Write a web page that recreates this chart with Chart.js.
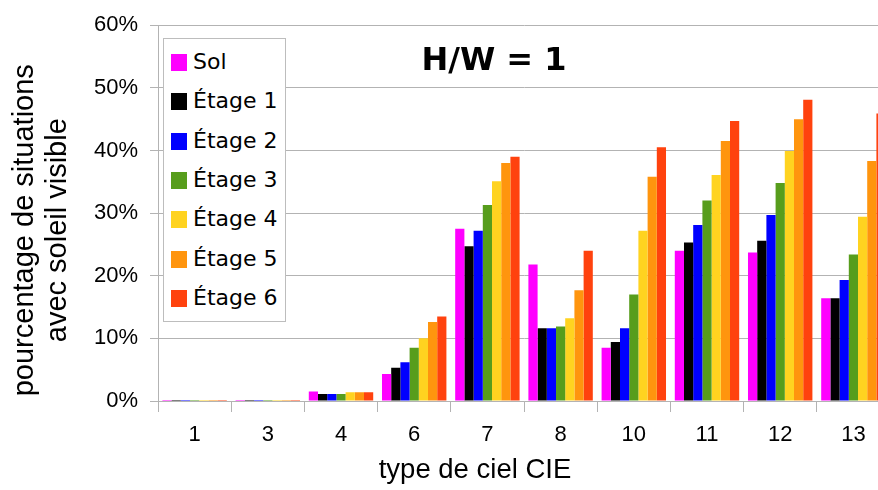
<!DOCTYPE html>
<html>
<head>
<meta charset="utf-8">
<script src="https://cdn.jsdelivr.net/npm/chart.js@4"></script>
<style>
  html, body { margin: 0; padding: 0; background: #fff; overflow: hidden; }
  #wrap { position: relative; width: 890px; height: 490px; }
  #legend {
    position: absolute; left: 163px; top: 38px; width: 121px; height: 282px;
    border: 1px solid #bdbdbd; background: #fff;
    font-family: "DejaVu Sans", sans-serif; font-size: 22px; color: #000;
  }
  .item { position: absolute; left: 7px; height: 24px; line-height: 24px; white-space: nowrap; }
  .item span { display: inline-block; width: 16px; height: 17px; vertical-align: -2px; margin-right: 6px; }
</style>
</head>
<body>
<div id="wrap">
  <canvas id="chart" width="890" height="490"></canvas>
  <div id="legend"></div>
</div>
<script>
// * categories (type de ciel CIE)
const ciel = ["1", "3", "4", "6", "7", "8", "10", "11", "12", "13"];
const serieNoms = ["Sol", "Étage 1", "Étage 2", "Étage 3", "Étage 4", "Étage 5", "Étage 6"];
const serieCouleurs = ["#ff00ff", "#000000", "#0000ff", "#579d1c", "#ffd320", "#ff950e", "#ff420e"];

// * valeurs (%)
const sol = [0.15, 0.15, 1.5, 4.3, 27.5, 21.8, 8.5, 24.0, 23.7, 16.4];
const etage1 = [0.15, 0.15, 1.1, 5.3, 24.7, 11.6, 9.4, 25.3, 25.6, 16.4];
const etage2 = [0.15, 0.15, 1.1, 6.2, 27.2, 11.6, 11.6, 28.1, 29.7, 19.3];
const etage3 = [0.15, 0.15, 1.1, 8.5, 31.3, 11.9, 17.0, 32.0, 34.8, 23.4];
const etage4 = [0.15, 0.15, 1.4, 10.0, 35.1, 13.2, 27.2, 36.1, 39.9, 29.4];
const etage5 = [0.15, 0.15, 1.4, 12.6, 38.0, 17.7, 35.8, 41.5, 45.0, 38.3];
const etage6 = [0.15, 0.15, 1.4, 13.5, 39.0, 24.0, 40.5, 44.7, 48.1, 45.9];
const series = [sol, etage1, etage2, etage3, etage4, etage5, etage6];

const yTicks = [0, 10, 20, 30, 40, 50, 60];
const titre = "H/W = 1";
const titreX = "type de ciel CIE";
const titreY = ["pourcentage de situations", "avec soleil visible"];

const grille = "#b3b3b3";
const axeFont = { family: "Liberation Sans", size: 22 };

const datasets = series.map((s, i) => ({
  label: serieNoms[i],
  data: s,
  backgroundColor: serieCouleurs[i],
  borderWidth: 0,
  categoryPercentage: 0.88,
  barPercentage: 1.0,
}));

// ? titres dessinés à la main
const titrePlugin = {
  id: "titre",
  afterDraw(chart) {
    const ctx = chart.ctx;
    const a = chart.chartArea;
    ctx.save();
    ctx.fillStyle = "#000";
    ctx.textAlign = "center";
    ctx.textBaseline = "alphabetic";
    ctx.font = "bold 32px 'DejaVu Sans'";
    ctx.fillText(titre, a.left + 336, a.top + 45);
    ctx.font = "27.5px 'Liberation Sans'";
    ctx.textBaseline = "middle";
    ctx.fillText(titreX, a.left + 317, a.bottom + 69);
    // titre axe y, tourné
    ctx.font = "29px 'Liberation Sans'";
    ctx.translate(a.left - 133, a.top + 205);
    ctx.rotate(-Math.PI / 2);
    titreY.forEach((t, i) => ctx.fillText(t, 0, i * 33));
    ctx.restore();
  },
};

const chart = new Chart(document.getElementById("chart").getContext("2d"), {
  type: "bar",
  data: { labels: ciel, datasets: datasets },
  options: {
    responsive: false,
    animation: false,
    layout: { padding: { top: 23, right: 0, left: 0, bottom: 0 } },
    plugins: { legend: { display: false }, tooltip: { enabled: false } },
    scales: {
      x: {
        grid: { drawOnChartArea: false, drawTicks: true, tickLength: 11, color: grille, offset: true },
        border: { display: true, color: grille },
        ticks: { color: "#000", font: axeFont, padding: 10, maxRotation: 0, autoSkip: false },
        afterFit(scale) { scale.height = 89; },
      },
      y: {
        min: 0,
        max: 60,
        afterBuildTicks(scale) { scale.ticks = yTicks.map((v) => ({ value: v })); },
        grid: { color: grille, tickLength: 8 },
        border: { display: true, color: grille },
        ticks: { color: "#000", font: axeFont, padding: 12, callback: (v) => v + "%" },
        afterFit(scale) { scale.width = 158; },
      },
    },
  },
  plugins: [titrePlugin],
});

// ? légende HTML dans le graphe
const legend = document.getElementById("legend");
serieNoms.forEach((nom, i) => {
  const d = document.createElement("div");
  d.className = "item";
  d.style.top = (11 + i * 39.3) + "px";
  d.innerHTML = '<span style="background:' + serieCouleurs[i] + '"></span>' + nom;
  legend.appendChild(d);
});
</script>
</body>
</html>
